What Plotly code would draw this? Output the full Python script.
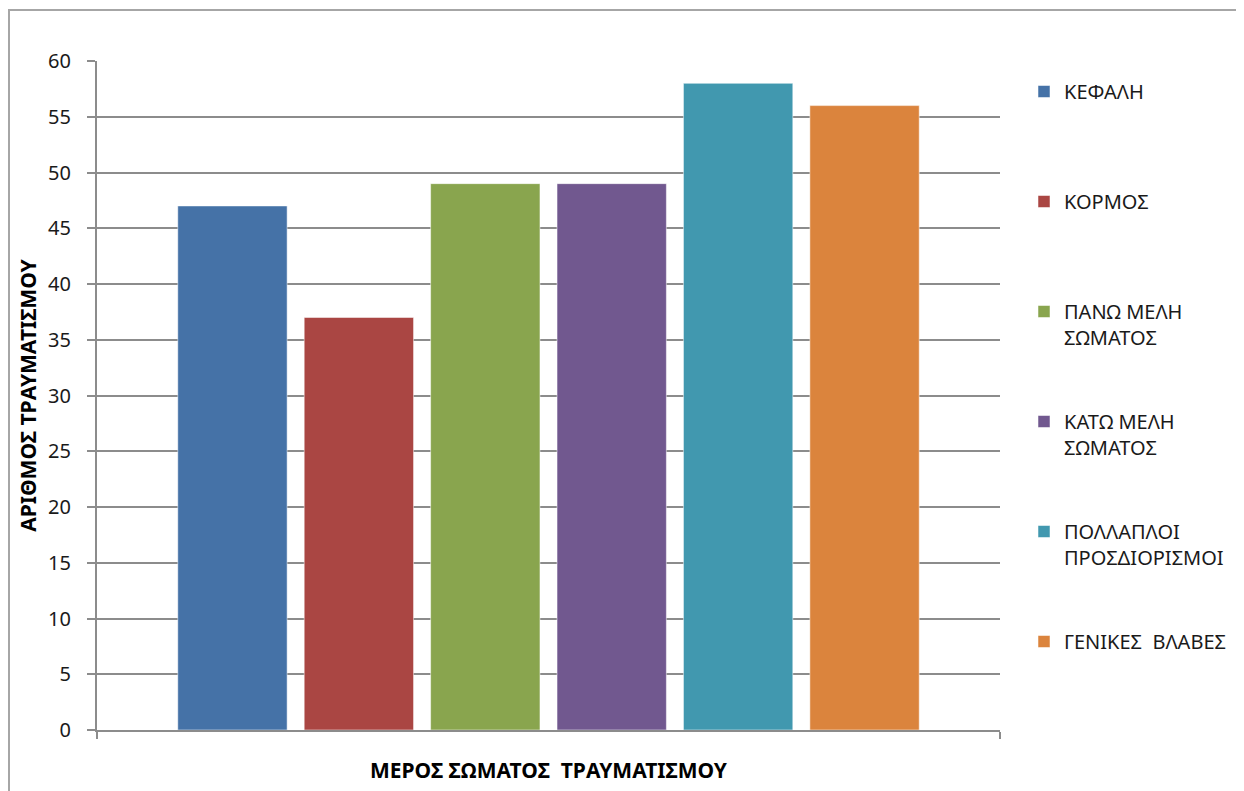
import plotly.graph_objects as go

categories = ["ΜΕΡΟΣ ΣΩΜΑΤΟΣ ΤΡΑΥΜΑΤΙΣΜΟΥ"]
series_names = ["ΚΕΦΑΛΗ", "ΚΟΡΜΟΣ", "ΠΑΝΩ ΜΕΛΗ<br>ΣΩΜΑΤΟΣ", "ΚΑΤΩ ΜΕΛΗ<br>ΣΩΜΑΤΟΣ",
                "ΠΟΛΛΑΠΛΟΙ<br>ΠΡΟΣΔΙΟΡΙΣΜΟΙ", "ΓΕΝΙΚΕΣ  ΒΛΑΒΕΣ"]
series_values = [47, 37, 49, 49, 58, 56]
colors = ["#4572A7", "#AA4643", "#89A54E", "#71588F", "#4198AF", "#DB843D"]
y_ticks = [0, 5, 10, 15, 20, 25, 30, 35, 40, 45, 50, 55, 60]

FONT = "Noto Sans, DejaVu Sans, sans-serif"
OFF = 8  # page body margin

fig = go.Figure()
for name, val, col in zip(series_names, series_values, colors):
    label = name.replace("  ", "&nbsp; ")
    if "<br>" not in label:
        label = label + "<br>&nbsp;"
    fig.add_trace(go.Bar(
        x=categories, y=[val], name=label, marker_color=col,
        marker_line=dict(color="rgba(255,255,255,0.5)", width=1),
        legendgroup=name,
    ))

W, H = 1244 - OFF, 791 - OFF
L, T = 97 - OFF, 61 - OFF
R = W - (1000 - OFF)
B = H - (730 - OFF)
pw, ph = W - L - R, H - T - B

fig.update_layout(
    width=W, height=H,
    margin=dict(l=L, r=R, t=T, b=B, autoexpand=False),
    paper_bgcolor="white", plot_bgcolor="white",
    barmode="group", bargap=0.16, bargroupgap=0.135,
    font=dict(family=FONT, size=20, color="#1a1a1a"),
    showlegend=True,
    legend=dict(
        x=(1024 - OFF - L) / pw, xanchor="left",
        y=1.0 - (72 - OFF - T) / ph, yanchor="top",
        valign="top", tracegroupgap=55,
        font=dict(family=FONT, size=20, color="#1a1a1a"),
        itemwidth=30,
    ),
    xaxis=dict(
        automargin=False,
        showticklabels=False, showline=True, linecolor="#8c8c8c", linewidth=2,
        ticks="outside", tickson="boundaries", ticklen=7, tickcolor="#8c8c8c", tickwidth=2,
        title=dict(text="<b>ΜΕΡΟΣ ΣΩΜΑΤΟΣ&nbsp; ΤΡΑΥΜΑΤΙΣΜΟΥ</b>", standoff=32,
                   font=dict(family=FONT, size=21, color="#000")),
    ),
    yaxis=dict(
        automargin=False,
        range=[0, 60], tickvals=y_ticks, showgrid=True, gridcolor="#8c8c8c", gridwidth=2,
        showline=True, linecolor="#8c8c8c", linewidth=2, zeroline=False,
        ticks="outside", ticklen=8, tickcolor="#8c8c8c", tickwidth=2,
        ticklabelstandoff=12,
        tickfont=dict(family=FONT, size=20, color="#1a1a1a"),
        title=dict(text="<b>ΑΡΙΘΜΟΣ ΤΡΑΥΜΑΤΙΣΜΟΥ</b>", standoff=6,
                   font=dict(family=FONT, size=21, color="#000")),
    ),
)

# outer chart border (top and left edges visible)
fig.add_shape(type="rect", xref="paper", yref="paper",
              x0=(1 - L) / pw, x1=(W + 20 - L) / pw,
              y0=-(40 + B) / ph, y1=1 + (T - (10 - OFF)) / ph,
              line=dict(color="#a6a6a6", width=2), fillcolor="rgba(0,0,0,0)", layer="below")

fig.write_html("out.html")
